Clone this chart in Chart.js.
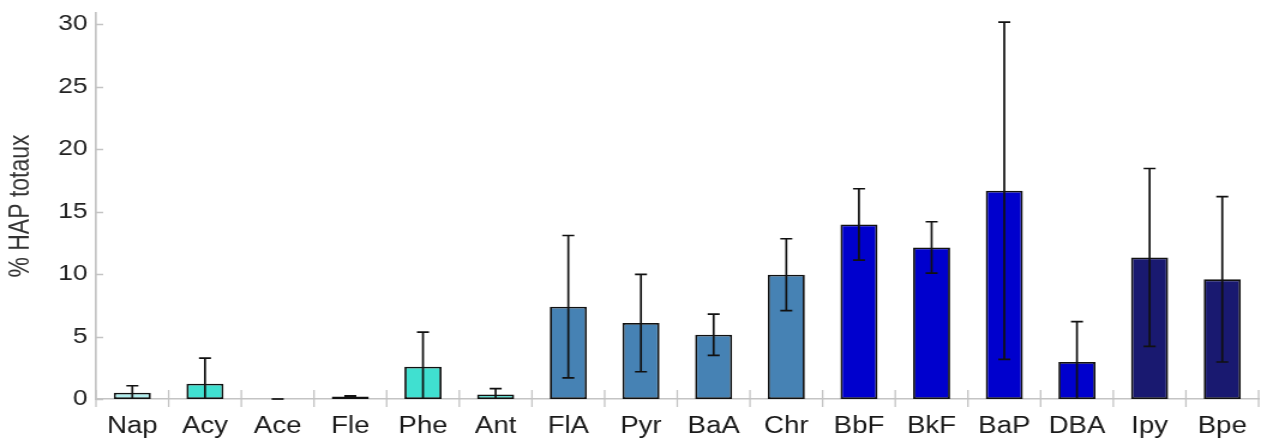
<!DOCTYPE html>
<html>
<head>
<meta charset="utf-8">
<script src="https://cdn.jsdelivr.net/npm/chart.js@4/dist/chart.umd.min.js"></script>
<style>
  html, body { margin: 0; padding: 0; background: #ffffff; overflow: hidden; }
  #wrap { width: 1261px; height: 443px; }
  /* the chart is drawn 1051 px wide and shown stretched to 1261 px, like the reference's wide lettering */
  #c { width: 1261px; height: 443px; display: block; }
</style>
</head>
<body>
<div id="wrap"><canvas id="c" width="1051" height="443" style="width:1261px;height:443px"></canvas></div>
<script>
// ---- data ----
const categories = ['Nap','Acy','Ace','Fle','Phe','Ant','FlA','Pyr','BaA','Chr','BbF','BkF','BaP','DBA','Ipy','Bpe'];
const meanValues = [0.5, 1.23, 0, 0.2, 2.59, 0.37, 7.39, 6.08, 5.15, 9.95, 13.97, 12.13, 16.67, 2.96, 11.33, 9.58];
const sdValues   = [0.56, 2.05, 0, 0.05, 2.77, 0.46, 5.7, 3.9, 1.65, 2.88, 2.86, 2.06, 13.5, 3.23, 7.12, 6.62];
const barColors  = ['#afeeee','#40e0d0','#40e0d0','#40e0d0','#40e0d0','#40e0d0',
                    '#4682b4','#4682b4','#4682b4','#4682b4',
                    '#0000cd','#0000cd','#0000cd','#0000cd',
                    '#191970','#191970'];
const yTickValues = [0, 5, 10, 15, 20, 25, 30];

const FONT = "'Liberation Sans', Arial, sans-serif";

const errorBarPlugin = {
  id: 'errorBars',
  afterDatasetsDraw(chart) {
    const ctx = chart.ctx;
    const y = chart.scales.y;
    const meta = chart.getDatasetMeta(0);
    ctx.save();
    ctx.strokeStyle = '#111111';
    ctx.lineWidth = 1.7;
    const cap = 5;
    meta.data.forEach((bar, i) => {
      const m = meanValues[i], s = sdValues[i];
      const hi = m + s, lo = Math.max(0, m - s);
      const x = bar.x;
      const yHi = y.getPixelForValue(hi), yLo = y.getPixelForValue(lo);
      ctx.beginPath();
      ctx.moveTo(x, yLo); ctx.lineTo(x, yHi);
      ctx.moveTo(x - cap, yHi); ctx.lineTo(x + cap, yHi);
      if (lo > 0) { ctx.moveTo(x - cap, yLo); ctx.lineTo(x + cap, yLo); }
      ctx.stroke();
    });
    ctx.restore();
  }
};

const axisTicksPlugin = {
  id: 'axisTicks',
  afterDraw(chart) {
    const ctx = chart.ctx;
    const x = chart.scales.x, y = chart.scales.y;
    const area = chart.chartArea;
    ctx.save();
    ctx.strokeStyle = '#c4c4c4';
    ctx.lineWidth = 1.5;
    ctx.beginPath();
    yTickValues.forEach(v => {
      const py = Math.round(y.getPixelForValue(v)) + 0.5;
      ctx.moveTo(area.left, py); ctx.lineTo(area.left + 6, py);
    });
    ctx.stroke();
    ctx.lineWidth = 1.3;
    ctx.beginPath();
    for (let i = 0; i <= categories.length; i++) {
      const px = x.getPixelForValue(i - 0.5);
      ctx.moveTo(px, area.bottom - 9); ctx.lineTo(px, area.bottom + 8);
    }
    ctx.stroke();
    ctx.restore();
  }
};

new Chart(document.getElementById('c'), {
  type: 'bar',
  data: {
    labels: categories,
    datasets: [{
      data: meanValues,
      backgroundColor: barColors,
      borderColor: '#111111',
      borderWidth: 1.8,
      borderSkipped: false,
      barPercentage: 0.51,
      categoryPercentage: 1.0
    }]
  },
  options: {
    responsive: false,
    animation: false,
    devicePixelRatio: 1,
    layout: { padding: { top: 13, right: 2, left: 0, bottom: 0 } },
    plugins: { legend: { display: false }, tooltip: { enabled: false } },
    scales: {
      x: {
        offset: true,
        grid: { display: false, drawTicks: false },
        border: { display: true, color: '#c4c4c4', width: 1.5 },
        ticks: { color: '#1a1a1a', font: { family: FONT, size: 23 }, padding: 14, maxRotation: 0, autoSkip: false },
        afterFit(scale) { scale.height = 44; scale.paddingLeft = 0; scale.paddingRight = 0; }
      },
      y: {
        min: 0,
        max: 30.9,
        afterBuildTicks(scale) { scale.ticks = yTickValues.map(v => ({ value: v })); },
        grid: { display: false, drawTicks: false },
        border: { display: true, color: '#c4c4c4', width: 1.7 },
        ticks: { color: '#222222', font: { family: FONT, size: 22 }, padding: 7 },
        title: { display: true, text: '% HAP totaux', color: '#333333', font: { family: FONT, size: 23 }, padding: { top: 4, bottom: 0 } },
        afterFit(scale) { scale.width = 80; scale.paddingTop = 0; scale.paddingBottom = 0; }
      }
    }
  },
  plugins: [errorBarPlugin, axisTicksPlugin]
});
</script>
</body>
</html>
